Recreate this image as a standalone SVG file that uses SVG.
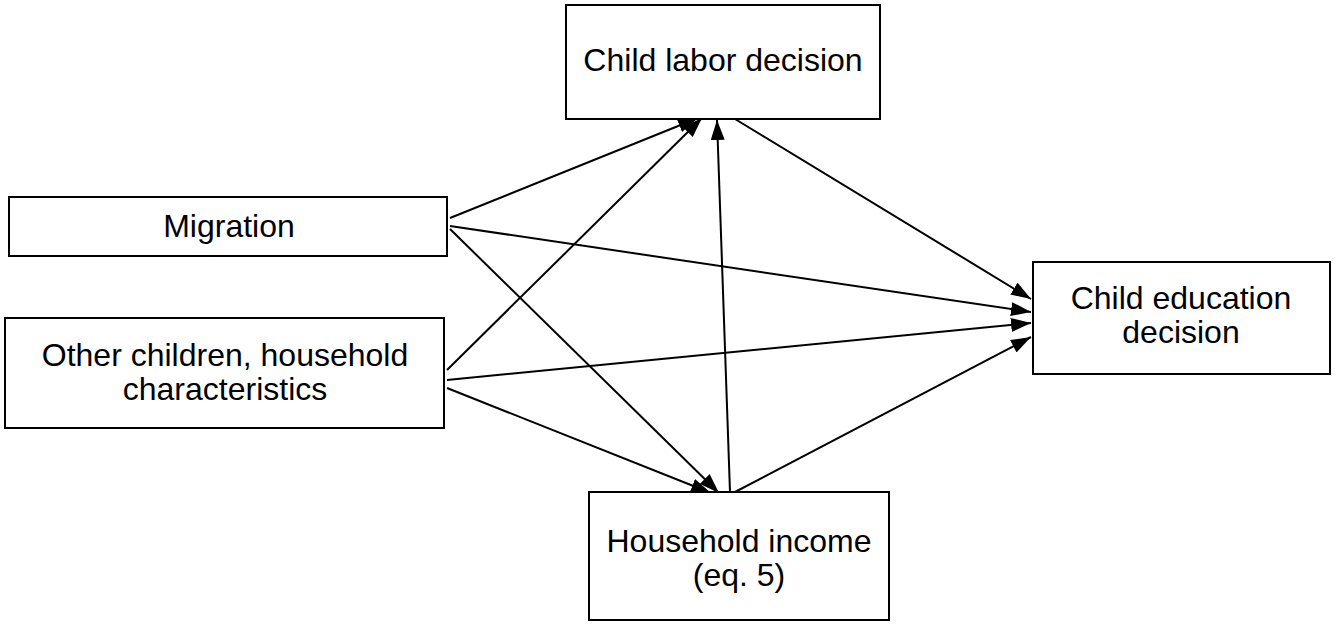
<svg xmlns="http://www.w3.org/2000/svg" width="1335" height="627" viewBox="0 0 1335 627">
<style>
.b{fill:#fff;stroke:#000;stroke-width:2}
.t{font-family:"Liberation Sans",Arial,sans-serif;font-size:32px;text-anchor:middle;fill:#000}
.c line{stroke:#000;stroke-width:2;marker-end:url(#a)}
</style>
<defs><marker id="a" viewBox="0 0 20 14" refX="20" refY="7" markerWidth="20" markerHeight="14" markerUnits="userSpaceOnUse" orient="auto"><path d="M0,0L20,7L0,14z"/></marker></defs>
<rect width="1335" height="627" fill="#fff"/>
<g class="c">
<line x1="450" y1="218" x2="698" y2="118"/>
<line x1="450" y1="226" x2="1031" y2="312"/>
<line x1="450" y1="229" x2="719" y2="493"/>
<line x1="447" y1="370" x2="702" y2="118"/>
<line x1="447" y1="380" x2="1031" y2="323"/>
<line x1="447" y1="388" x2="711" y2="493"/>
<line x1="730" y1="492" x2="717" y2="120"/>
<line x1="735" y1="492" x2="1031" y2="337"/>
<line x1="735" y1="119" x2="1031" y2="299"/>
</g>
<g id="labor"><rect class="b" x="566" y="5" width="314" height="114"/><text class="t" x="723" y="71">Child labor decision</text></g>
<g id="migration"><rect class="b" x="9" y="197" width="438" height="59"/><text class="t" x="229" y="237">Migration</text></g>
<g id="other"><rect class="b" x="5" y="318" width="439" height="110"/><text class="t" x="225" y="366">Other children, household</text><text class="t" x="225" y="400">characteristics</text></g>
<g id="edu"><rect class="b" x="1033" y="262" width="297" height="112"/><text class="t" x="1181" y="309">Child education</text><text class="t" x="1181" y="343">decision</text></g>
<g id="income"><rect class="b" x="589" y="492" width="300" height="128"/><text class="t" x="739" y="552">Household income</text><text class="t" x="739" y="586">(eq. 5)</text></g>
</svg>
